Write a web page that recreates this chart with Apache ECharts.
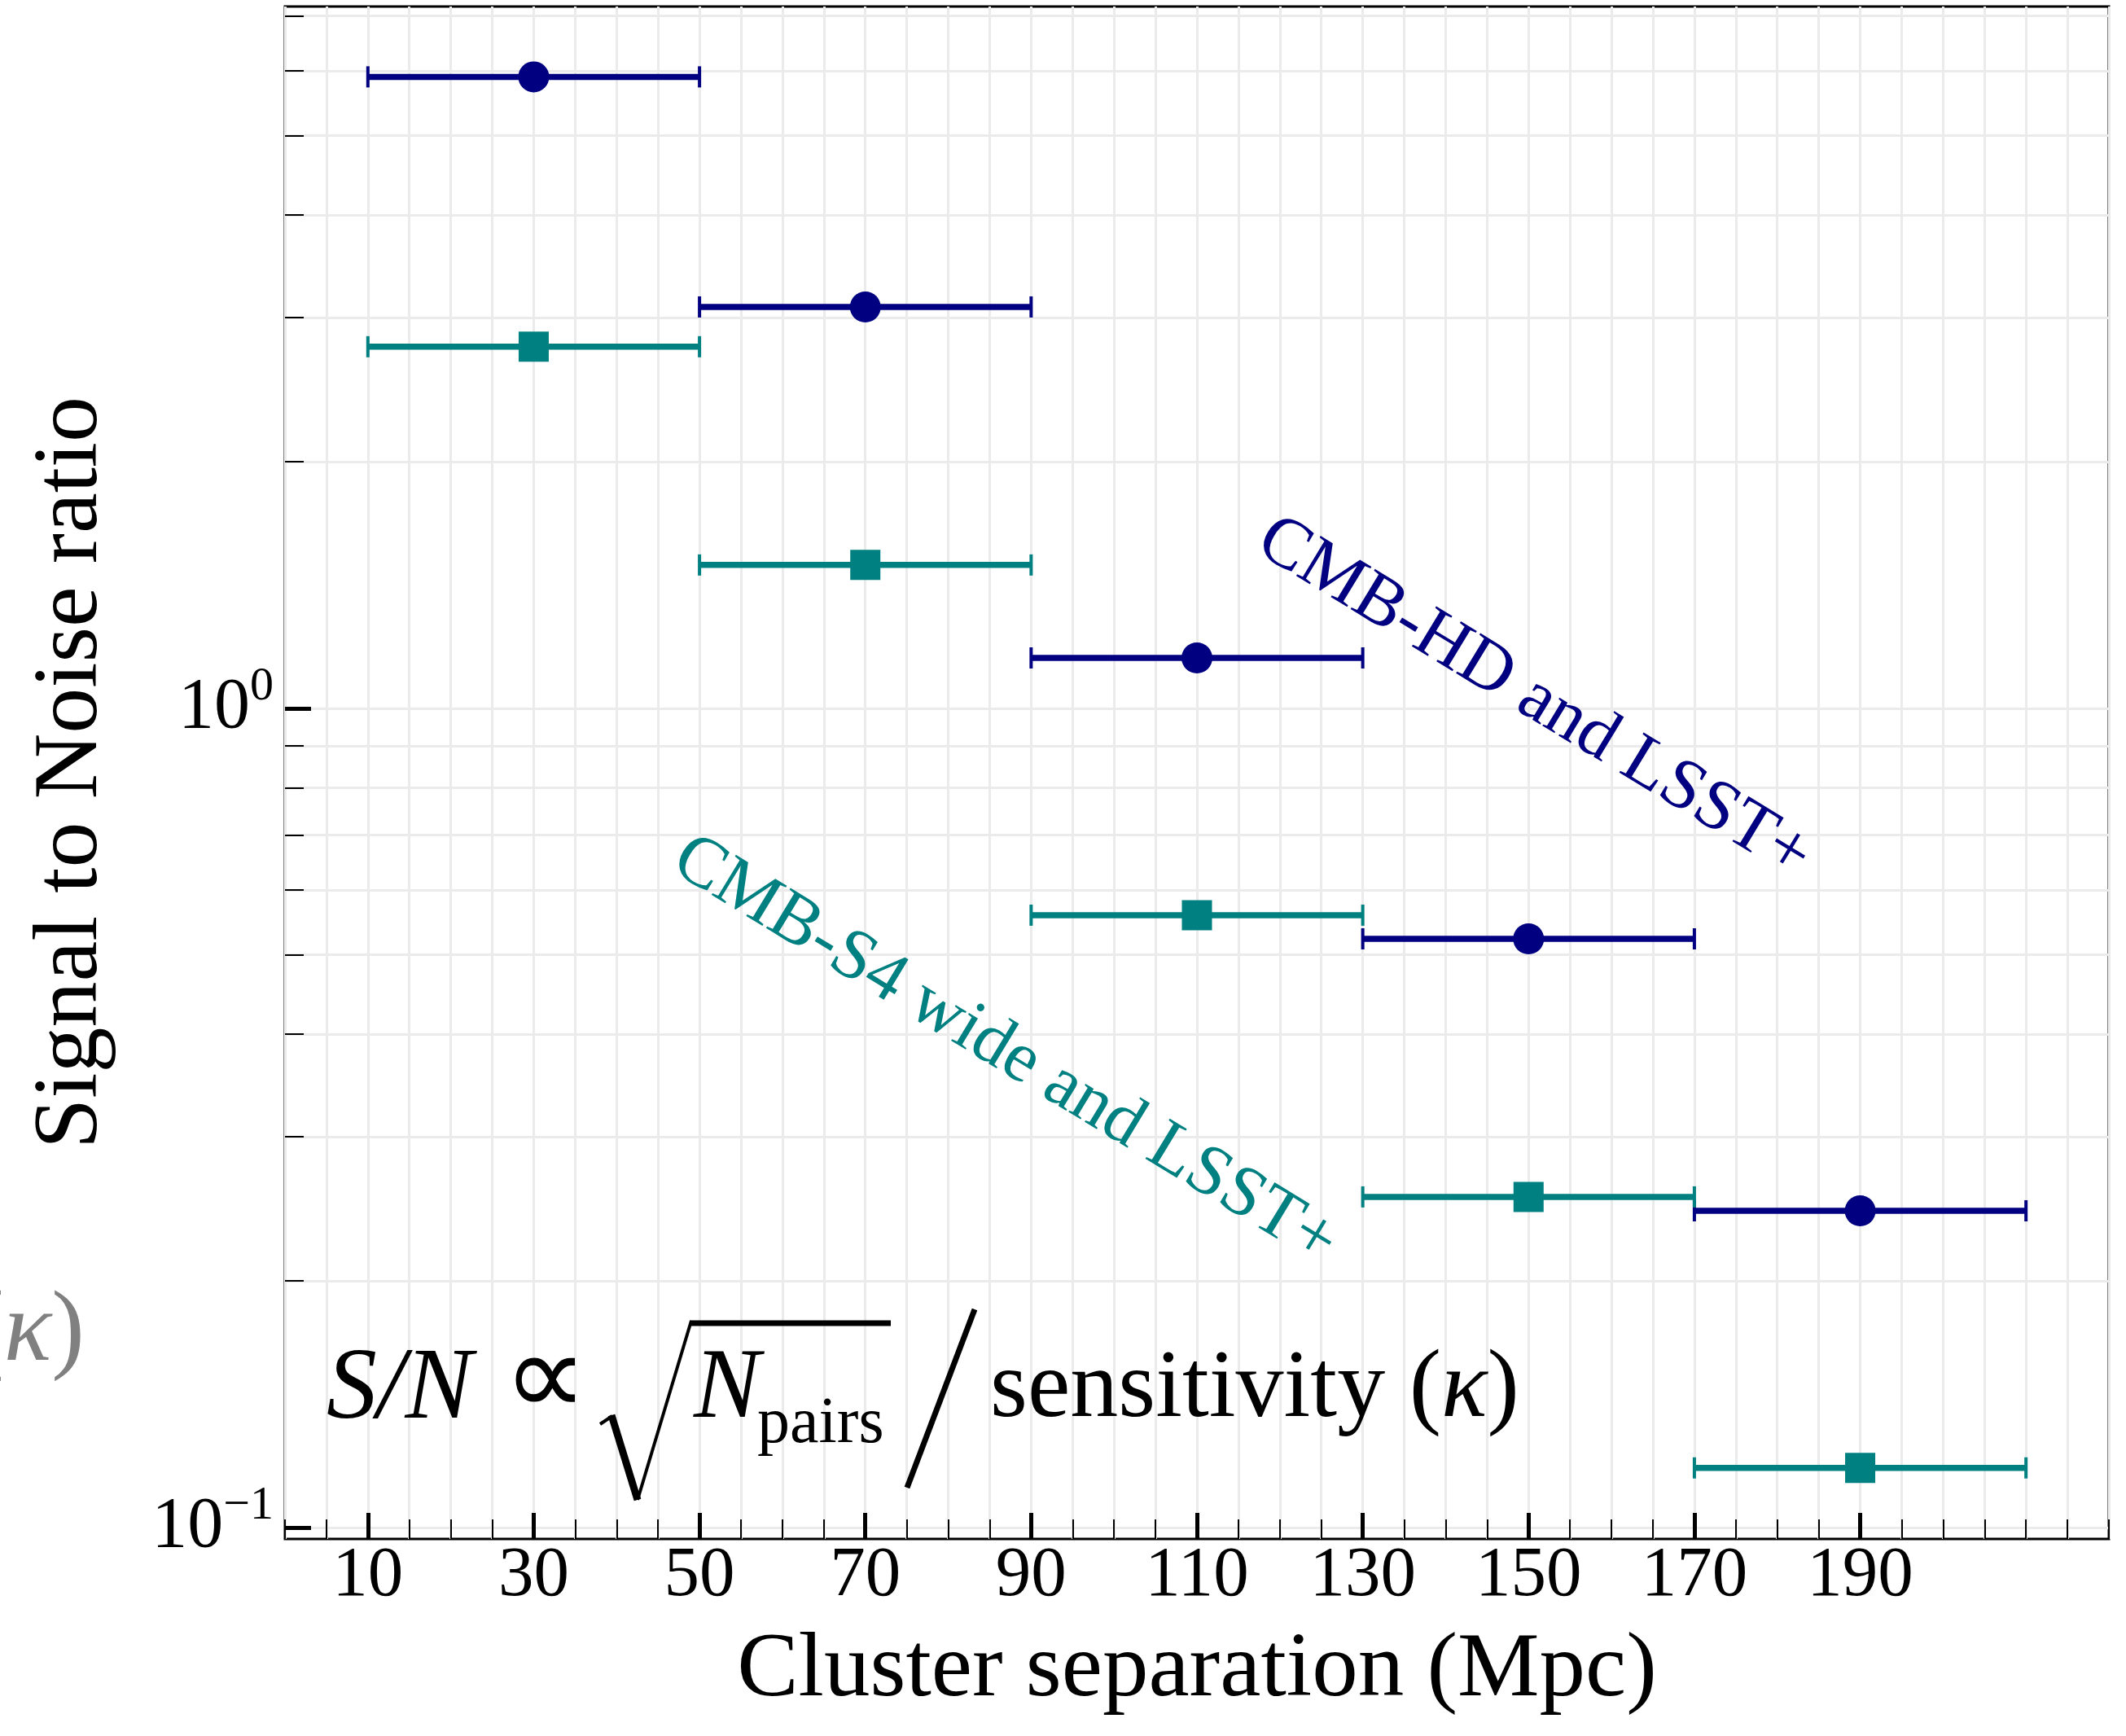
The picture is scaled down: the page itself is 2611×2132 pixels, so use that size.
<!DOCTYPE html>
<html>
<head>
<meta charset="utf-8">
<script src="https://cdn.jsdelivr.net/npm/echarts@6.0.0/dist/echarts.min.js"></script>
<style>
html, body { margin: 0; padding: 0; background: #fff; }
#chart { width: 2611px; height: 2132px; }
</style>
</head>
<body>
<div id="chart"></div>
<script>
// data
var separation = [30, 70, 110, 150, 190];          // bin centres (Mpc)
var binHalfWidth = [20, 20, 20, 20, 20];           // x error (Mpc)
var snHD = [5.90, 3.09, 1.152, 0.523, 0.2435];     // CMB-HD and LSST+
var snS4 = [2.763, 1.496, 0.559, 0.2532, 0.1182];  // CMB-S4 wide and LSST+
var xTickLabels = [10, 30, 50, 70, 90, 110, 130, 150, 170, 190];
var yMajorTicks = [0.1, 1];
var yMinorTicks = [0.1, 0.2, 0.3, 0.4, 0.5, 0.6, 0.7, 0.8, 0.9, 1, 2, 3, 4, 5, 6, 7];

var FONT = 'Liberation Serif';
var NAVY = '#000080';
var TEAL = '#008080';
var yMin = 0.0968, yMax = 7.19;

var chart = echarts.init(document.getElementById('chart'), null, {renderer: 'canvas'});

function errorBar(color) {
    return function (params, api) {
        var x = api.value(0), y = api.value(1), e = api.value(2);
        var p0 = api.coord([x - e, y]);
        var p1 = api.coord([x + e, y]);
        var cap = 13;
        return {
            type: 'group',
            children: [
                {type: 'line', shape: {x1: p0[0], y1: p0[1], x2: p1[0], y2: p1[1]},
                 style: {stroke: color, lineWidth: 7.5}},
                {type: 'line', shape: {x1: p0[0], y1: p0[1] - cap, x2: p0[0], y2: p0[1] + cap},
                 style: {stroke: color, lineWidth: 4}},
                {type: 'line', shape: {x1: p1[0], y1: p1[1] - cap, x2: p1[0], y2: p1[1] + cap},
                 style: {stroke: color, lineWidth: 4}}
            ]
        };
    };
}

function pairs(ys) {
    return separation.map(function (x, i) { return [x, ys[i], binHalfWidth[i]]; });
}

var gridBox = {left: 350, right: 21, top: 8, bottom: 242};

var option = {
    animation: false,
    backgroundColor: '#fff',
    grid: [
        Object.assign({show: true, borderColor: '#000', borderWidth: 3, backgroundColor: 'transparent'}, gridBox),
        Object.assign({show: false}, gridBox)
    ],
    xAxis: [
        {
            gridIndex: 0, type: 'value', min: 0, max: 220, interval: 5,
            axisLine: {show: false},
            axisTick: {show: true, inside: true, length: 24, lineStyle: {color: '#000', width: 2}},
            axisLabel: {show: false},
            splitLine: {show: true, lineStyle: {color: '#ebebeb', width: 3}}
        },
        {
            gridIndex: 1, type: 'value', min: 0, max: 220, interval: 5,
            axisLine: {show: false},
            axisTick: {show: true, inside: true, length: 32, customValues: xTickLabels,
                       lineStyle: {color: '#000', width: 5}},
            axisLabel: {show: true, customValues: xTickLabels, margin: 3,
                        fontFamily: FONT, fontSize: 87, color: '#000'},
            splitLine: {show: false},
            name: 'Cluster separation (Mpc)', nameLocation: 'middle', nameGap: 106,
            nameTextStyle: {fontFamily: FONT, fontSize: 113, color: '#000'}
        }
    ],
    yAxis: [
        {
            gridIndex: 0, type: 'log', logBase: 10, min: yMin, max: yMax,
            axisLine: {show: false},
            axisTick: {show: true, inside: true, length: 23, customValues: yMinorTicks,
                       lineStyle: {color: '#000', width: 2}},
            axisLabel: {show: false},
            splitLine: {show: true, lineStyle: {color: '#ebebeb', width: 3}}
        },
        {
            gridIndex: 1, type: 'log', logBase: 10, min: yMin, max: yMax,
            axisLine: {show: false},
            axisTick: {show: true, inside: true, length: 32, customValues: yMajorTicks,
                       lineStyle: {color: '#000', width: 5}},
            axisLabel: {
                show: true, customValues: yMajorTicks, margin: 14,
                formatter: function (v) {
                    var p = Math.round(Math.log(v) / Math.LN10);
                    return '{b|10}{s|' + (p < 0 ? '\u2212' + (-p) : p) + '}';
                },
                rich: {
                    b: {fontFamily: FONT, fontSize: 88, lineHeight: 110, color: '#000'},
                    s: {fontFamily: FONT, fontSize: 58, lineHeight: 58, verticalAlign: 'top', color: '#000'}
                }
            },
            splitLine: {show: false},
            name: 'Signal to Noise ratio', nameLocation: 'middle', nameGap: 205,
            nameTextStyle: {fontFamily: FONT, fontSize: 112, color: '#000'}
        }
    ],
    series: [
        {
            type: 'custom', name: 'HD err', xAxisIndex: 0, yAxisIndex: 0,
            renderItem: errorBar(NAVY), data: pairs(snHD), encode: {x: 0, y: 1}, z: 2
        },
        {
            type: 'custom', name: 'S4 err', xAxisIndex: 0, yAxisIndex: 0,
            renderItem: errorBar(TEAL), data: pairs(snS4), encode: {x: 0, y: 1}, z: 2
        },
        {
            type: 'scatter', name: 'CMB-HD and LSST+', xAxisIndex: 0, yAxisIndex: 0,
            symbol: 'circle', symbolSize: 38, itemStyle: {color: NAVY, opacity: 1},
            data: pairs(snHD), z: 3
        },
        {
            type: 'scatter', name: 'CMB-S4 wide and LSST+', xAxisIndex: 0, yAxisIndex: 0,
            symbol: 'rect', symbolSize: 37, itemStyle: {color: TEAL, opacity: 1},
            data: pairs(snS4), z: 3
        }
    ],
    graphic: [
        // rotated annotations
        {type: 'text', x: 1884, y: 858, rotation: -31.3 * Math.PI / 180, z: 10,
         style: {text: 'CMB-HD and LSST+', fontFamily: FONT, fontSize: 88, fill: NAVY,
                 align: 'center', verticalAlign: 'middle'}},
        {type: 'text', x: 1234, y: 1291, rotation: -31.3 * Math.PI / 180, z: 10,
         style: {text: 'CMB-S4 wide and LSST+', fontFamily: FONT, fontSize: 88, fill: TEAL,
                 align: 'center', verticalAlign: 'middle'}},
        // S/N formula
        {type: 'text', x: 401, y: 1708, z: 10,
         style: {text: 'S/N', fontFamily: FONT, fontStyle: 'italic', fontSize: 124, fill: '#000',
                 align: 'left', verticalAlign: 'middle'}},
        {type: 'text', x: 618, y: 1700, z: 10,
         style: {text: '\u221D', fontFamily: FONT, fontSize: 145, fill: '#000',
                 align: 'left', verticalAlign: 'middle'}},
        {type: 'polyline', z: 10, shape: {points: [[737, 1749], [752, 1739]]},
         style: {stroke: '#000', lineWidth: 4, fill: null}},
        {type: 'polyline', z: 10, shape: {points: [[751, 1738], [783, 1842]]},
         style: {stroke: '#000', lineWidth: 9, fill: null}},
        {type: 'polyline', z: 10, shape: {points: [[783, 1842], [849, 1622]]},
         style: {stroke: '#000', lineWidth: 4, fill: null}},
        {type: 'line', z: 10, shape: {x1: 847, y1: 1625, x2: 1094, y2: 1625},
         style: {stroke: '#000', lineWidth: 7}},
        {type: 'text', x: 852, y: 1708, z: 10,
         style: {text: 'N', fontFamily: FONT, fontStyle: 'italic', fontSize: 122, fill: '#000',
                 align: 'left', verticalAlign: 'middle'}},
        {type: 'text', x: 930, y: 1750, z: 10,
         style: {text: 'pairs', fontFamily: FONT, fontSize: 80, fill: '#000',
                 align: 'left', verticalAlign: 'middle'}},
        {type: 'line', z: 10, shape: {x1: 1114, y1: 1827, x2: 1197, y2: 1608},
         style: {stroke: '#000', lineWidth: 7}},
        {type: 'text', x: 1216, y: 1708, z: 10,
         style: {text: '{a|sensitivity (}{k|\u03BA}{a|)}', fill: '#000',
                 align: 'left', verticalAlign: 'middle',
                 rich: {a: {fontFamily: FONT, fontSize: 118, fill: '#000'},
                        k: {fontFamily: FONT, fontSize: 118, fontStyle: 'italic', fill: '#000'}}}},
        // clipped grey copy at the left edge
        {type: 'text', x: 104, y: 1638, z: 10,
         style: {text: '{a|(}{k|\u03BA}{a|)}', fill: '#808080',
                 align: 'right', verticalAlign: 'middle',
                 rich: {a: {fontFamily: FONT, fontSize: 122, fill: '#808080'},
                        k: {fontFamily: FONT, fontSize: 122, fontStyle: 'italic', fill: '#808080'}}}}
    ]
};

chart.setOption(option);
</script>
</body>
</html>
